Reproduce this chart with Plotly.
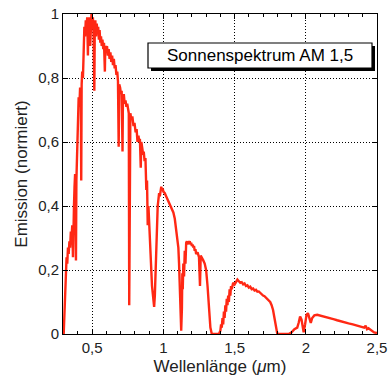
import plotly.graph_objects as go

wavelength_um = [
    0.300, 0.305, 0.310, 0.315, 0.320, 0.325, 0.330, 0.335, 0.340, 0.345, 0.350, 0.355, 0.360, 0.365, 0.368,
    0.372, 0.376, 0.380, 0.384, 0.386, 0.389, 0.392, 0.396, 0.400, 0.405, 0.410, 0.415, 0.420, 0.423, 0.426,
    0.430, 0.435, 0.440, 0.445, 0.450, 0.455, 0.460, 0.465, 0.470, 0.473, 0.478, 0.482, 0.486, 0.490, 0.495,
    0.500, 0.505, 0.510, 0.515, 0.518, 0.522, 0.527, 0.532, 0.537, 0.542, 0.547, 0.552, 0.557, 0.562, 0.567,
    0.572, 0.578, 0.583, 0.589, 0.592, 0.598, 0.604, 0.610, 0.616, 0.622, 0.628, 0.634, 0.640, 0.646, 0.652,
    0.658, 0.664, 0.670, 0.676, 0.681, 0.686, 0.690, 0.696, 0.702, 0.707, 0.713, 0.716, 0.722, 0.728, 0.734,
    0.740, 0.746, 0.752, 0.757, 0.760, 0.763, 0.768, 0.775, 0.782, 0.790, 0.797, 0.805, 0.812, 0.818, 0.825,
    0.830, 0.835, 0.841, 0.845, 0.852, 0.858, 0.862, 0.868, 0.874, 0.880, 0.885, 0.890, 0.895, 0.900, 0.905,
    0.910, 0.915, 0.920, 0.928, 0.935, 0.940, 0.945, 0.950, 0.955, 0.960, 0.965, 0.970, 0.975, 0.980, 0.985,
    0.990, 0.995, 1.000, 1.010, 1.020, 1.030, 1.040, 1.050, 1.060, 1.070, 1.080, 1.090, 1.100, 1.105, 1.110,
    1.115, 1.120, 1.125, 1.130, 1.133, 1.136, 1.140, 1.145, 1.150, 1.155, 1.160, 1.165, 1.170, 1.175, 1.180,
    1.185, 1.190, 1.195, 1.200, 1.205, 1.210, 1.215, 1.220, 1.225, 1.230, 1.240, 1.250, 1.257, 1.262, 1.270,
    1.280, 1.290, 1.300, 1.310, 1.320, 1.330, 1.340, 1.390, 1.400, 1.405, 1.410, 1.415, 1.420, 1.425, 1.430,
    1.435, 1.440, 1.445, 1.450, 1.455, 1.460, 1.465, 1.470, 1.475, 1.480, 1.490, 1.500, 1.510, 1.520, 1.530,
    1.540, 1.550, 1.560, 1.570, 1.580, 1.590, 1.600, 1.610, 1.620, 1.630, 1.640, 1.650, 1.660, 1.670, 1.680,
    1.690, 1.700, 1.710, 1.720, 1.730, 1.740, 1.750, 1.760, 1.770, 1.780, 1.790, 1.800, 1.880, 1.900, 1.920,
    1.940, 1.950, 1.960, 1.970, 1.985, 1.995, 2.005, 2.015, 2.025, 2.035, 2.045, 2.060, 2.080, 2.100, 2.120,
    2.140, 2.160, 2.180, 2.200, 2.220, 2.240, 2.260, 2.280, 2.300, 2.330, 2.360, 2.390, 2.410, 2.420, 2.430,
    2.440, 2.460, 2.480, 2.500,
]

emission = [
    0.00, 0.08, 0.16, 0.21, 0.24, 0.22, 0.27, 0.25, 0.29, 0.27, 0.32, 0.30, 0.34, 0.24, 0.36,
    0.40, 0.46, 0.50, 0.42, 0.23, 0.48, 0.52, 0.60, 0.68, 0.74, 0.71, 0.77, 0.75, 0.48, 0.78,
    0.82, 0.80, 0.90, 0.96, 0.93, 0.98, 0.95, 0.99, 0.87, 0.97, 0.94, 0.99, 0.90, 0.97, 1.00,
    0.96, 0.99, 0.93, 0.76, 0.95, 0.98, 0.93, 0.97, 0.94, 0.96, 0.92, 0.95, 0.91, 0.93, 0.90,
    0.92, 0.89, 0.91, 0.82, 0.90, 0.88, 0.90, 0.87, 0.89, 0.86, 0.88, 0.85, 0.87, 0.84, 0.86,
    0.83, 0.84, 0.81, 0.82, 0.79, 0.585, 0.78, 0.77, 0.75, 0.76, 0.57, 0.74, 0.75, 0.72, 0.73,
    0.71, 0.72, 0.70, 0.69, 0.09, 0.68, 0.69, 0.67, 0.68, 0.65, 0.66, 0.63, 0.64, 0.60, 0.62,
    0.60, 0.61, 0.52, 0.60, 0.58, 0.56, 0.57, 0.54, 0.55, 0.45, 0.48, 0.34, 0.40, 0.36, 0.30,
    0.25, 0.20, 0.15, 0.10, 0.085, 0.12, 0.20, 0.28, 0.35, 0.40, 0.42, 0.44, 0.43, 0.45, 0.46,
    0.45, 0.455, 0.445, 0.44, 0.43, 0.42, 0.41, 0.40, 0.39, 0.38, 0.36, 0.33, 0.30, 0.27, 0.22,
    0.12, 0.05, 0.01, 0.08, 0.19, 0.14, 0.22, 0.18, 0.26, 0.22, 0.285, 0.29, 0.28, 0.29, 0.285,
    0.29, 0.28, 0.285, 0.275, 0.28, 0.27, 0.275, 0.26, 0.265, 0.25, 0.255, 0.24, 0.15, 0.245, 0.24,
    0.23, 0.22, 0.20, 0.15, 0.08, 0.02, 0.00, 0.00, 0.01, 0.03, 0.02, 0.05, 0.03, 0.07, 0.05,
    0.09, 0.07, 0.11, 0.09, 0.12, 0.10, 0.14, 0.12, 0.15, 0.14, 0.16, 0.155, 0.165, 0.17, 0.165,
    0.16, 0.162, 0.155, 0.158, 0.15, 0.152, 0.145, 0.148, 0.14, 0.142, 0.136, 0.138, 0.132, 0.133, 0.128,
    0.125, 0.12, 0.118, 0.113, 0.11, 0.105, 0.10, 0.09, 0.075, 0.05, 0.02, 0.00, 0.00, 0.005, 0.015,
    0.02, 0.035, 0.055, 0.045, 0.005, 0.03, 0.06, 0.065, 0.045, 0.035, 0.05, 0.058, 0.06, 0.058, 0.056,
    0.054, 0.05, 0.048, 0.046, 0.043, 0.04, 0.038, 0.036, 0.033, 0.03, 0.026, 0.022, 0.02, 0.026, 0.015,
    0.018, 0.01, 0.005, 0.003,
]

x_tick_vals = [0.5, 1.0, 1.5, 2.0, 2.5]
x_tick_text = ["0,5", "1", "1,5", "2", "2,5"]
y_tick_vals = [0, 0.2, 0.4, 0.6, 0.8, 1.0]
y_tick_text = ["0", "0,2", "0,4", "0,6", "0,8", "1"]

legend_label = "Sonnenspektrum AM 1,5"

FONT = "Liberation Sans, Arial, Helvetica, sans-serif"

fig = go.Figure()
fig.add_trace(go.Scatter(
    x=wavelength_um, y=emission, mode="lines",
    line=dict(color="rgb(255,40,20)", width=2.4),
    showlegend=False, hoverinfo="skip",
))

# plot area in page pixels: x 63..377, y 14..334
def px_x(p):
    return (p - 63) / 314.0

def px_y(p):
    return (334 - p) / 320.0

shapes = [
    dict(type="rect", xref="paper", yref="paper",
         x0=px_x(151), x1=px_x(375), y0=px_y(71), y1=px_y(46),
         fillcolor="black", line=dict(width=0), layer="above"),
    dict(type="rect", xref="paper", yref="paper",
         x0=px_x(148), x1=px_x(372), y0=px_y(68), y1=px_y(43),
         fillcolor="white", line=dict(color="black", width=1.2), layer="above"),
]

fig.update_layout(
    width=388, height=379,
    margin=dict(l=63, r=11, t=14, b=45, autoexpand=False),
    paper_bgcolor="white", plot_bgcolor="white",
    font=dict(family=FONT, size=15, color="#222"),
    shapes=shapes,
    hovermode=False,
    annotations=[dict(
        text=legend_label, xref="paper", yref="paper",
        x=(px_x(148) + px_x(372)) / 2, y=(px_y(68) + px_y(43)) / 2,
        xanchor="center", yanchor="middle", showarrow=False,
        font=dict(family=FONT, size=17, color="black"),
    )],
)

fig.update_xaxes(
    range=[0.295, 2.5], automargin=False, ticklabeloverflow="allow",
    tickvals=x_tick_vals, ticktext=x_tick_text,
    ticks="inside", ticklen=5, tickcolor="black",
    showline=True, linecolor="black", linewidth=1, mirror="allticks",
    showgrid=True, gridcolor="black", griddash="1px,2px", gridwidth=1,
    zeroline=False,
    minor=dict(dtick=0.1, tick0=0, ticks="inside", ticklen=3, tickcolor="black", showgrid=False),
    title=dict(text="Wellenlänge (<i>μ</i>m)", font=dict(family=FONT, size=17), standoff=5),
    tickfont=dict(family=FONT, size=15),
)
fig.update_yaxes(
    range=[0, 1.0], automargin=False, ticklabeloverflow="allow",
    tickvals=y_tick_vals, ticktext=y_tick_text,
    ticks="inside", ticklen=5, tickcolor="black",
    showline=True, linecolor="black", linewidth=1, mirror="allticks",
    showgrid=True, gridcolor="black", griddash="1px,2px", gridwidth=1,
    zeroline=False,
    title=dict(text="Emission (normiert)", font=dict(family=FONT, size=17), standoff=6),
    tickfont=dict(family=FONT, size=15),
)

fig.write_html(
    "out.html",
    config={"displayModeBar": False},
    post_script="document.body.style.margin='0';document.body.style.overflow='hidden';",
)
